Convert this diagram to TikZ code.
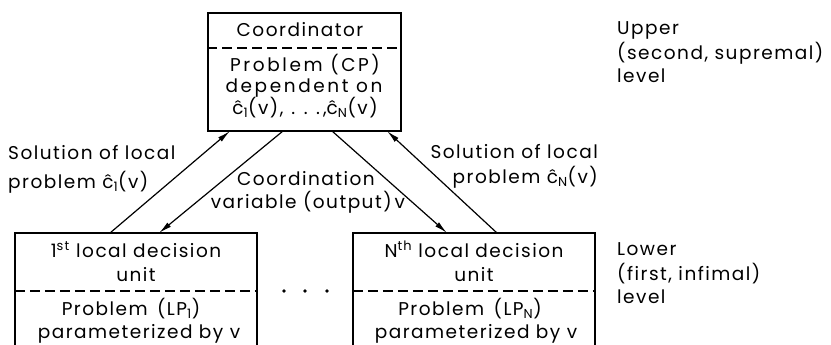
\documentclass[tikz,border=0pt]{standalone}
\usepackage{fontspec}
\setmainfont[LetterSpace=8]{Poppins}
\usetikzlibrary{arrows.meta,calc}
% c with a circumflex, built from the plain letter and the spacing accent
\newcommand{\chat}{\ooalign{c\cr\hidewidth\char"02C6\hidewidth\cr}}
% spaced-out dots for the list of local solutions
\newcommand{\spaceddots}{\hspace{8pt}.\hspace{8.5pt}.\hspace{8.5pt}.\hspace{3pt}}

\begin{document}
\begin{tikzpicture}[x=1pt,y=-1pt,
  boxline/.style={line width=1.7pt},
  divider/.style={line width=1.3pt, dash pattern=on 10pt off 5pt},
  link/.style={line width=1.2pt, -{Latex[length=13pt,width=5.5pt]}},
  txt/.style={inner sep=0pt, anchor=base, font=\fontsize{18.5}{22}\selectfont},
  widetxt/.style={txt, font=\fontsize{18.5}{22}\selectfont\addfontfeature{LetterSpace=14}},
  ltxt/.style={txt, anchor=base west},
  rtxt/.style={txt, anchor=base east},
  dot/.style={circle, fill, inner sep=0pt, minimum size=3.8pt}
]
\useasboundingbox (0,0) rectangle (831,345);
\clip (0,0) rectangle (831,345);

% coordinator box
\node[draw, boxline, minimum width=193pt, minimum height=118pt, inner sep=0pt] (coord) at (304.5,72) {};
\draw[divider] (coord.west |- 0,48) -- (coord.east |- 0,48);
\node[txt] (c1) at (300,37)  {Coordinator};
\node[widetxt] (c2) at (305,72)  {Problem (CP)};
\node[widetxt] (c3) at (304,93)  {dependent on};
\node[txt] (c4) at (305,114) {\chat\textsubscript{1}(v),\spaceddots,\chat\textsubscript{N}(v)};

% local decision units (open towards the bottom)
\node[minimum width=242pt, minimum height=120pt, inner sep=0pt] (lu1) at (136,293) {};
\node[minimum width=242pt, minimum height=120pt, inner sep=0pt] (luN) at (474,293) {};
\draw[boxline] (lu1.south west) -- (lu1.north west) -- (lu1.north east) -- (lu1.south east);
\draw[boxline] (luN.south west) -- (luN.north west) -- (luN.north east) -- (luN.south east);
\draw[divider] (lu1.west |- 0,291) -- (lu1.east |- 0,291);
\draw[divider] (luN.west |- 0,291) -- (luN.east |- 0,291);

\node[txt] (a1) at (136,257) {1\textsuperscript{st} local decision};
\node[txt] (a2) at (136,281) {unit};
\node[txt] (a3) at (131,315) {Problem\hspace{3pt} (LP\textsubscript{1})};
\node[txt] (a4) at (139,338) {parameterized by v};

\node[txt] (b1) at (474,257) {N\textsuperscript{th} local decision};
\node[txt] (b2) at (474,281) {unit};
\node[txt] (b3) at (470,315) {Problem\hspace{3pt} (LP\textsubscript{N})};
\node[txt] (b4) at (476,338) {parameterized by v};

% dots between the units
\node[dot] (d1) at (284,291) {};
\node[dot] (d2) at (305,291) {};
\node[dot] (d3) at (327,291) {};

% connector end points on the box edges
\coordinate (s1low) at (110,233);
\coordinate (s1up)  at (230,131);
\coordinate (v1up)  at (283,131);
\coordinate (v1low) at (159,233);
\coordinate (vNup)  at (332,131);
\coordinate (vNlow) at (447,233);
\coordinate (sNlow) at (497,233);
\coordinate (sNup)  at (387,131);

\draw[link] (s1low) -- (s1up);
\draw[link] (v1up) -- (v1low);
\draw[link] (vNup) -- (vNlow);
\draw[link] (sNlow) -- (sNup);

% connector labels
\node[ltxt] (l1) at (8,160) {Solution of local};
\node[ltxt] (l2) at (8,188) {problem \chat\textsubscript{1}(v)};
\node[txt] (m1) at (306,185) {Coordination};
\node[txt] (m2) at (308,208) {variable (output)\,v};
\node[rtxt] (r1) at (598,158) {Solution of local};
\node[rtxt] (r2) at (598,183) {problem \chat\textsubscript{N}(v)};

% level names
\node[ltxt] (u1) at (617,35) {Upper};
\node[ltxt] (u2) at (617,60) {(second, supremal)};
\node[ltxt] (u3) at (617,83) {level};
\node[ltxt] (w1) at (617,255) {Lower};
\node[ltxt] (w2) at (617,280) {(first, infimal)};
\node[ltxt] (w3) at (617,303) {level};
\end{tikzpicture}
\end{document}
